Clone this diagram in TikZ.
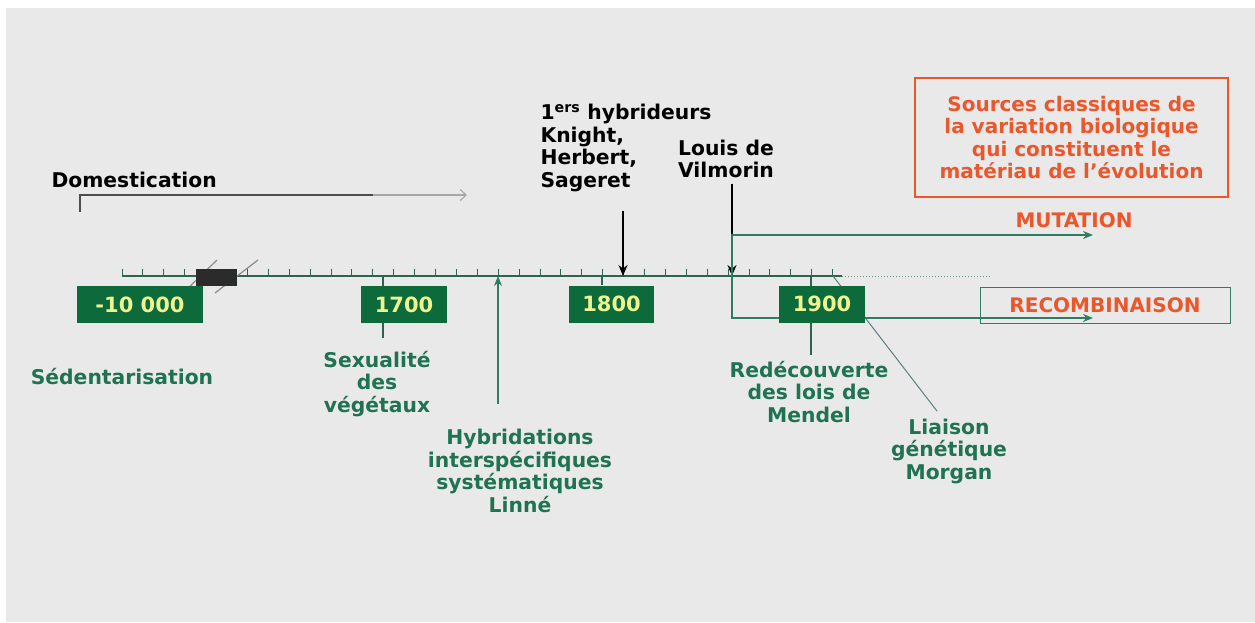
\documentclass[tikz,border=0pt]{standalone}
\usepackage{fontspec}
\setmainfont{DejaVu Sans}
\usepackage{xcolor}
\usepackage{tikz}
\usetikzlibrary{arrows.meta, positioning}

\definecolor{bggray}{HTML}{E9E9E9}
\definecolor{boxgreen}{HTML}{0D6A3B}
\definecolor{yeartxt}{HTML}{EEF48F}
\definecolor{txtgreen}{HTML}{1F7352}
\definecolor{axisgreen}{HTML}{2D6450}
\definecolor{arrowgreen}{HTML}{2E7D62}
\definecolor{orangetxt}{HTML}{E9572B}
\definecolor{brkgray}{HTML}{8A8A8A}

\begin{document}
\begin{tikzpicture}[x=1pt, y=-1pt,
    yearbox/.style={fill=boxgreen, text=yeartxt, minimum height=37pt, inner sep=0pt, font=\fontsize{21}{22}\selectfont\bfseries},
    gtext/.style={text=txtgreen, align=center, font=\fontsize{20.3}{22.5}\selectfont\bfseries},
    ktext/.style={text=black, font=\fontsize{20.3}{22.5}\selectfont\bfseries},
    otext/.style={text=orangetxt, align=center, font=\fontsize{20}{22.5}\selectfont\bfseries},
    tick/.style={draw=axisgreen, line width=1pt},
    yearline/.style={draw=axisgreen, line width=1.2pt},
    garrow/.style={draw=arrowgreen, line width=1.6pt, >={Stealth[length=10pt, width=8pt]}},
    karrow/.style={draw=black, line width=1.4pt, ->, >={Stealth[length=11pt, width=9pt]}}
]
    % page
    \useasboundingbox (0,0) rectangle (1255,622);
    \fill[bggray] (6,8) rectangle (1255,622);

    % Labels
    \node[ktext, anchor=west] (domest) at (48,180) {Domestication};
    \node[ktext, align=left, anchor=west] (hybr) at (537,148) {1\textsuperscript{ers} hybrideurs\\Knight,\\Herbert,\\Sageret};
    \node[ktext, align=center] (vilmorin) at (726,159) {Louis de\\Vilmorin};
    \node[gtext] (sedent) at (122,377) {Sédentarisation};
    \node[gtext] (sexual) at (377,384) {Sexualité\\des\\végétaux};
    \node[gtext] (linne) at (520,471) {Hybridations\\interspécifiques\\systématiques\\Linné};
    \node[gtext] (mendel) at (809,392) {Redécouverte\\des lois de\\Mendel};
    \node[gtext] (morgan) at (949,451) {Liaison\\génétique\\Morgan};
    \node[otext, draw=orangetxt, line width=1.2pt, minimum width=313pt, minimum height=119pt] (sources) at (1071.5,137.5) {Sources classiques de\\la variation biologique\\qui constituent le\\matériau de l'évolution};
    \node[otext] (mutation) at (1074,220) {MUTATION};
    \node[otext, draw=arrowgreen, line width=1pt, minimum width=250pt, minimum height=36pt] (recomb) at (1105,305) {RECOMBINAISON};

    % Points on the time axis
    \coordinate (axstart) at (122,276);
    \coordinate (axend) at (842,276);
    \coordinate (dotend) at (990,276);
    \coordinate (t1700) at (383,276);
    \coordinate (t1800) at (602,276);
    \coordinate (t1900) at (811,276);
    \coordinate (tlinne) at (498,276);
    \coordinate (thybr) at (623,276);
    \coordinate (tvilm) at (732,276);
    \coordinate (tmorgan) at (833,276);

    % Domestication bracket
    \coordinate (domfoot) at (80,212);
    \coordinate (dommid) at (373,195);
    \coordinate (domtip) at (467,195);
    \draw[gray!60!black, line width=1.1pt] (domfoot) |- (dommid);
    \draw[gray!70, line width=1.1pt, -{Straight Barb[length=6pt, width=11pt]}] (dommid) -- (domtip);

    % Axis and ticks
    \draw[axisgreen, line width=1.8pt] (axstart) -- (axend);
    \draw[axisgreen!70, line width=1pt, dotted] (axend) -- (dotend);
    \foreach \k in {0,...,34}
        \draw[tick] ({122+20.9*\k},276) -- ++(0,-7);

    % Break in the axis
    \draw[brkgray, line width=1.2pt] (183,293) -- (217,260);
    \draw[brkgray, line width=1.2pt] (215,293) -- (258,260);
    \node[fill=black!83, minimum width=41pt, minimum height=17pt, inner sep=0pt] (brk) at (216.5,277.5) {};

    % Links to the labels
    \draw[yearline] (t1700) -- ([yshift=10pt]sexual.north -| t1700);
    \draw[yearline] (t1900) -- ([yshift=3pt]mendel.north -| t1900);
    \draw[draw=gray!70!teal, line width=1pt] (tmorgan) -- ([xshift=-12pt, yshift=4pt]morgan.north);
    \draw[garrow, ->] ([yshift=22pt]linne.north -| tlinne) -- (tlinne);
    \draw[karrow] ([yshift=-16pt]hybr.south -| thybr) -- (thybr);
    \draw[karrow] ([yshift=-2pt]vilmorin.south -| tvilm) -- (tvilm);

    % Mutation / recombinaison branch
    \coordinate (mutend) at (1093,235);
    \coordinate (recend) at (1093,318);
    \draw[garrow, <->] (mutend) -- (mutend -| tvilm) -- (recend -| tvilm) -- (recend);

    % Year boxes
    \node[yearbox, minimum width=126pt] (y10000) at (140,304.5) {-10 000};
    \node[yearbox, minimum width=86pt] (y1700) at (404,304.5) {1700};
    \node[yearbox, minimum width=85pt] (y1800) at (611.5,304) {1800};
    \node[yearbox, minimum width=86pt] (y1900) at (822,304) {1900};
    \draw[yearline] (t1800) -- (y1800.north -| t1800);

\end{tikzpicture}
\end{document}
